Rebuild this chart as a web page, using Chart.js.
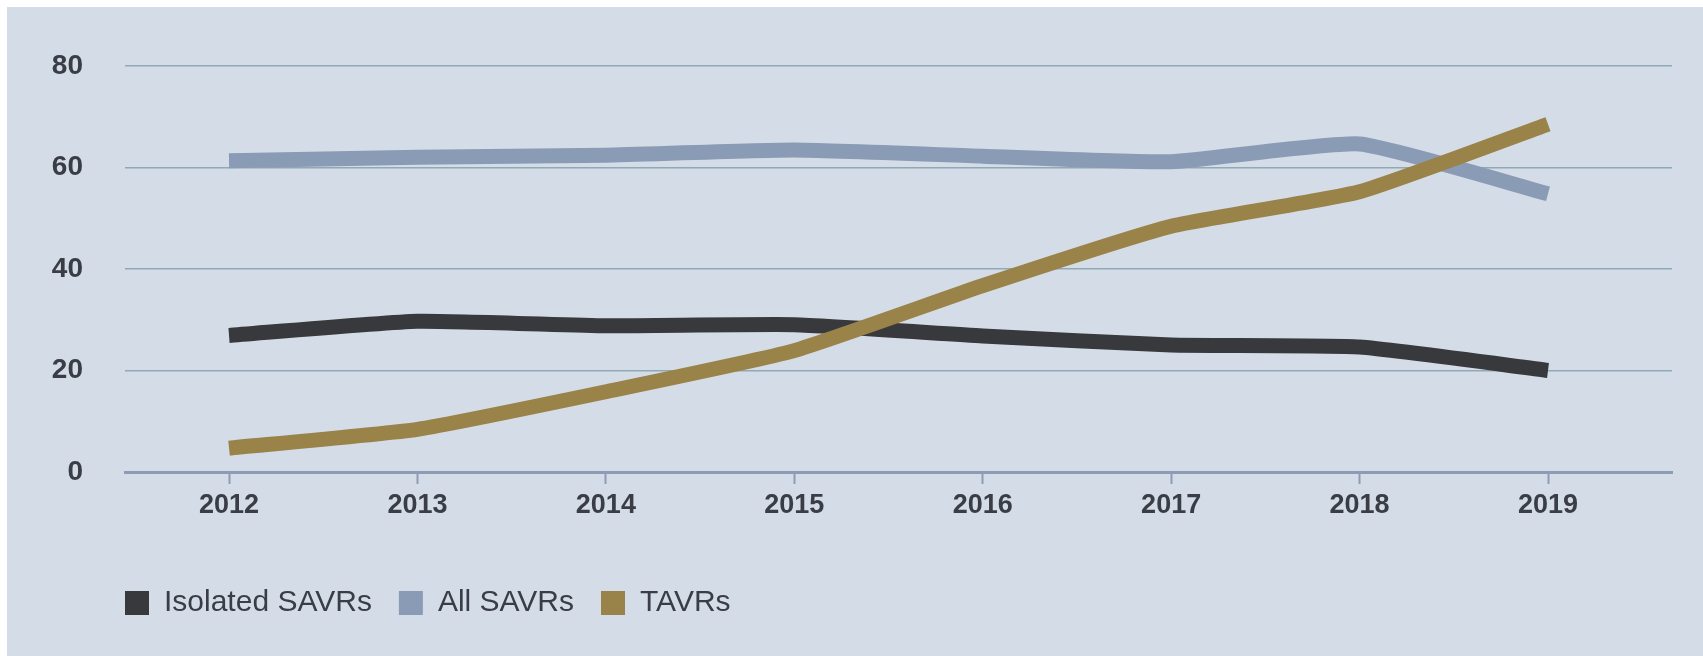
<!DOCTYPE html>
<html>
<head>
<meta charset="utf-8">
<script src="https://cdn.jsdelivr.net/npm/chart.js@4"></script>
<style>
    html, body { margin: 0; padding: 0; background: #ffffff; }
    #wrap { position: absolute; left: 7px; top: 7px; width: 1696px; height: 649px; background: #d4dde7; }
</style>
</head>
<body>
<div id="wrap"><canvas id="savrChart"></canvas></div>
<script>
const years = [2012, 2013, 2014, 2015, 2016, 2017, 2018, 2019];
const isolatedSavrs = [26.9, 29.7, 28.8, 29.0, 26.8, 25.0, 24.6, 20.0];
const allSavrs = [61.3, 62.0, 62.4, 63.4, 62.2, 61.1, 64.6, 54.8];
const tavrs = [4.7, 8.4, 15.8, 23.9, 36.7, 48.4, 55.2, 68.5];
const yTicks = [0, 20, 40, 60, 80];

const textColor = '#3a3d45';
const sansFont = "'Liberation Sans', Arial, sans-serif";
const legendPad = 27;

function toPoints(values) {
    return values.map((v, i) => ({ x: years[i], y: v }));
}

// line the legend up with the left edge of the plot area
const legendShift = {
    id: 'legendShift',
    beforeDraw(chart) {
        if (chart.legend) {
            chart.legend.left = chart.chartArea.left - legendPad;
        }
    }
};

const ctx = document.getElementById("savrChart").getContext("2d");

new Chart(ctx, {
    type: 'line',
    data: {
        datasets: [
            {
                label: 'Isolated SAVRs',
                data: toPoints(isolatedSavrs),
                borderColor: '#38393d',
                backgroundColor: '#38393d',
                order: 3
            },
            {
                label: 'All SAVRs',
                data: toPoints(allSavrs),
                borderColor: '#8a9cb5',
                backgroundColor: '#8a9cb5',
                order: 2
            },
            {
                label: 'TAVRs',
                data: toPoints(tavrs),
                borderColor: '#9a8349',
                backgroundColor: '#9a8349',
                order: 1
            }
        ]
    },
    plugins: [legendShift],
    options: {
        responsive: true,
        maintainAspectRatio: false,
        animation: false,
        layout: {
            padding: { left: 40, right: 31, top: 56, bottom: 28 }
        },
        elements: {
            line: { borderWidth: 15, tension: 0.15, fill: false },
            point: { radius: 0, hoverRadius: 0 }
        },
        plugins: {
            tooltip: { enabled: false },
            legend: {
                position: 'bottom',
                align: 'start',
                labels: {
                    color: textColor,
                    boxWidth: 24,
                    boxHeight: 24,
                    padding: legendPad,
                    sort: (a, b) => a.datasetIndex - b.datasetIndex,
                    generateLabels: chart => Chart.defaults.plugins.legend.labels.generateLabels(chart)
                        .map(item => Object.assign(item, { lineWidth: 0 })),
                    font: { family: sansFont, size: 30 }
                }
            }
        },
        scales: {
            x: {
                type: 'linear',
                min: 2011.448,
                max: 2019.658,
                afterBuildTicks: axis => { axis.ticks = years.map(v => ({ value: v })); },
                afterFit: axis => { axis.height = 89; },
                grid: {
                    drawOnChartArea: false,
                    drawTicks: true,
                    tickLength: 12,
                    tickWidth: 2,
                    tickColor: '#8c9cb5'
                },
                border: { display: true, color: '#8c9cb5', width: 3 },
                ticks: {
                    color: textColor,
                    padding: 5,
                    maxRotation: 0,
                    callback: v => String(v),
                    font: { family: sansFont, size: 27, weight: 'bold' }
                }
            },
            y: {
                min: 0,
                max: 80,
                afterBuildTicks: axis => { axis.ticks = yTicks.map(v => ({ value: v })); },
                afterFit: axis => { axis.width = 78; },
                grid: {
                    color: '#8fa9b6',
                    lineWidth: c => c.tick && c.tick.value === 0 ? 0 : 1.5,
                    drawTicks: false
                },
                border: { display: false },
                ticks: {
                    color: textColor,
                    padding: 42,
                    callback: v => String(v),
                    font: { family: sansFont, size: 28, weight: 'bold' }
                }
            }
        }
    }
});
</script>
</body>
</html>
